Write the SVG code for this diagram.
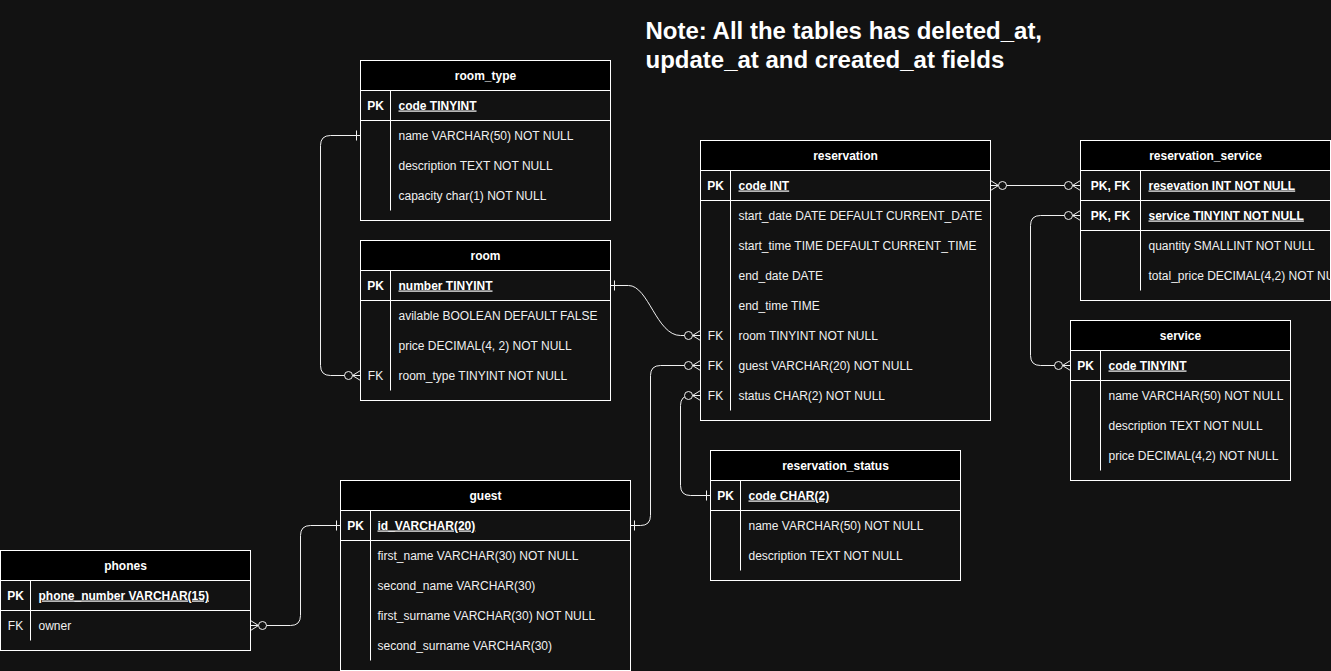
<svg xmlns="http://www.w3.org/2000/svg" width="1331" height="671" viewBox="0 0 1331 671">
<style>
.bg{fill:#121212}
.tb{fill:#121212;stroke:#ffffff;stroke-width:1}
.hd{fill:#000000;stroke:#ffffff;stroke-width:1}
.ln{stroke:#ffffff;stroke-width:1;fill:none}
.t{font-family:"Liberation Sans",Arial,Helvetica,sans-serif;font-size:12px;fill:#f0f0f0}
.h{font-weight:bold;text-anchor:middle;fill:#ffffff}
.k{font-weight:bold;text-anchor:middle;fill:#ffffff}
.f{text-anchor:middle}
.pk{font-weight:bold;text-decoration:underline;fill:#ffffff}
.note{font-family:"Liberation Sans",Arial,Helvetica,sans-serif;font-size:24px;font-weight:bold;fill:#ffffff}
.cn{stroke:#f0f0f0;stroke-width:1;fill:none}
</style>
<defs>
<marker id="zm" viewBox="-17 -7 20 14" refX="0" refY="0" markerWidth="20" markerHeight="14" orient="auto-start-reverse" markerUnits="userSpaceOnUse" overflow="visible">
<path d="M-8 0 L0 -5 M-8 0 L0 0 M-8 0 L0 5" stroke="#f0f0f0" stroke-width="1" fill="none"/>
<circle cx="-12" cy="0" r="4" fill="#121212" stroke="#f0f0f0" stroke-width="1"/>
</marker>
<marker id="one" viewBox="-8 -7 10 14" refX="0" refY="0" markerWidth="10" markerHeight="14" orient="auto-start-reverse" markerUnits="userSpaceOnUse" overflow="visible">
<path d="M-4 -5 V5" stroke="#f0f0f0" stroke-width="1" fill="none"/>
</marker>
<clipPath id="rsclip"><rect x="1080" y="140" width="250" height="160"/></clipPath>
</defs>
<rect class="bg" x="0" y="0" width="1331" height="671"/>
<g transform="translate(0.5,0.5)">

<g id="note">
<text class="note" x="645" y="38">Note: All the tables has deleted_at,</text>
<text class="note" x="645" y="67">update_at and created_at fields</text>
</g>

<g id="connectors">
<path class="cn" d="M360 135 H330 Q320 135 320 145 V365 Q320 375 330 375 H360" marker-start="url(#one)" marker-end="url(#zm)"/>
<path class="cn" d="M610 285 H628 C648 285 656 335 680 335 H700" marker-start="url(#one)" marker-end="url(#zm)"/>
<path class="cn" d="M630 525 H640 Q650 525 650 515 V375 Q650 365 660 365 H700" marker-start="url(#one)" marker-end="url(#zm)"/>
<path class="cn" d="M710 495 H690 Q680 495 680 485 V405 Q680 395 690 395 H700" marker-start="url(#one)" marker-end="url(#zm)"/>
<path class="cn" d="M990 185 H1080" marker-start="url(#zm)" marker-end="url(#zm)"/>
<path class="cn" d="M1070 365 H1040 Q1030 365 1030 355 V225 Q1030 215 1040 215 H1080" marker-start="url(#zm)" marker-end="url(#zm)"/>
<path class="cn" d="M340 525 H310 Q300 525 300 535 V615 Q300 625 290 625 H250" marker-start="url(#one)" marker-end="url(#zm)"/>
</g>

<g id="room_type">
<rect class="tb" x="360" y="60" width="250" height="160"/>
<rect class="hd" x="360" y="60" width="250" height="30"/>
<text class="t h" x="485" y="79">room_type</text>
<line class="ln" x1="360" y1="120" x2="610" y2="120"/>
<line class="ln" x1="390" y1="90" x2="390" y2="210"/>
<text class="t k" x="375" y="109">PK</text>
<text class="t pk" x="398" y="109">code TINYINT</text>
<text class="t" x="398" y="139">name VARCHAR(50) NOT NULL</text>
<text class="t" x="398" y="169">description TEXT NOT NULL</text>
<text class="t" x="398" y="199">capacity char(1) NOT NULL</text>
</g>

<g id="room">
<rect class="tb" x="360" y="240" width="250" height="160"/>
<rect class="hd" x="360" y="240" width="250" height="30"/>
<text class="t h" x="485" y="259">room</text>
<line class="ln" x1="360" y1="300" x2="610" y2="300"/>
<line class="ln" x1="390" y1="270" x2="390" y2="390"/>
<text class="t k" x="375" y="289">PK</text>
<text class="t pk" x="398" y="289">number TINYINT</text>
<text class="t" x="398" y="319">avilable BOOLEAN DEFAULT FALSE</text>
<text class="t" x="398" y="349">price DECIMAL(4, 2) NOT NULL</text>
<text class="t f" x="375" y="379">FK</text>
<text class="t" x="398" y="379">room_type TINYINT NOT NULL</text>
</g>

<g id="reservation">
<rect class="tb" x="700" y="140" width="290" height="280"/>
<rect class="hd" x="700" y="140" width="290" height="30"/>
<text class="t h" x="845" y="159">reservation</text>
<line class="ln" x1="700" y1="200" x2="990" y2="200"/>
<line class="ln" x1="730" y1="170" x2="730" y2="410"/>
<text class="t k" x="715" y="189">PK</text>
<text class="t pk" x="738" y="189">code INT</text>
<text class="t" x="738" y="219">start_date DATE DEFAULT CURRENT_DATE</text>
<text class="t" x="738" y="249">start_time TIME DEFAULT CURRENT_TIME</text>
<text class="t" x="738" y="279">end_date DATE</text>
<text class="t" x="738" y="309">end_time TIME</text>
<text class="t f" x="715" y="339">FK</text>
<text class="t" x="738" y="339">room TINYINT NOT NULL</text>
<text class="t f" x="715" y="369">FK</text>
<text class="t" x="738" y="369">guest VARCHAR(20) NOT NULL</text>
<text class="t f" x="715" y="399">FK</text>
<text class="t" x="738" y="399">status CHAR(2) NOT NULL</text>
</g>

<g id="reservation_service">
<rect class="tb" x="1080" y="140" width="250" height="160"/>
<rect class="hd" x="1080" y="140" width="250" height="30"/>
<text class="t h" x="1205" y="159">reservation_service</text>
<line class="ln" x1="1080" y1="200" x2="1330" y2="200"/>
<line class="ln" x1="1080" y1="230" x2="1330" y2="230"/>
<line class="ln" x1="1140" y1="170" x2="1140" y2="290"/>
<text class="t k" x="1110" y="189">PK, FK</text>
<text class="t pk" x="1148" y="189">resevation INT NOT NULL</text>
<text class="t k" x="1110" y="219">PK, FK</text>
<text class="t pk" x="1148" y="219">service TINYINT NOT NULL</text>
<text class="t" x="1148" y="249">quantity SMALLINT NOT NULL</text>
<text class="t" x="1148" y="279" clip-path="url(#rsclip)">total_price DECIMAL(4,2) NOT NULL</text>
</g>

<g id="service">
<rect class="tb" x="1070" y="320" width="220" height="160"/>
<rect class="hd" x="1070" y="320" width="220" height="30"/>
<text class="t h" x="1180" y="339">service</text>
<line class="ln" x1="1070" y1="380" x2="1290" y2="380"/>
<line class="ln" x1="1100" y1="350" x2="1100" y2="470"/>
<text class="t k" x="1085" y="369">PK</text>
<text class="t pk" x="1108" y="369">code TINYINT</text>
<text class="t" x="1108" y="399">name VARCHAR(50) NOT NULL</text>
<text class="t" x="1108" y="429">description TEXT NOT NULL</text>
<text class="t" x="1108" y="459">price DECIMAL(4,2) NOT NULL</text>
</g>

<g id="reservation_status">
<rect class="tb" x="710" y="450" width="250" height="130"/>
<rect class="hd" x="710" y="450" width="250" height="30"/>
<text class="t h" x="835" y="469">reservation_status</text>
<line class="ln" x1="710" y1="510" x2="960" y2="510"/>
<line class="ln" x1="740" y1="480" x2="740" y2="570"/>
<text class="t k" x="725" y="499">PK</text>
<text class="t pk" x="748" y="499">code CHAR(2)</text>
<text class="t" x="748" y="529">name VARCHAR(50) NOT NULL</text>
<text class="t" x="748" y="559">description TEXT NOT NULL</text>
</g>

<g id="guest">
<rect class="tb" x="340" y="480" width="290" height="190"/>
<rect class="hd" x="340" y="480" width="290" height="30"/>
<text class="t h" x="485" y="499">guest</text>
<line class="ln" x1="340" y1="540" x2="630" y2="540"/>
<line class="ln" x1="370" y1="510" x2="370" y2="660"/>
<text class="t k" x="355" y="529">PK</text>
<text class="t pk" x="377" y="529">id_VARCHAR(20)</text>
<text class="t" x="377" y="559">first_name VARCHAR(30) NOT NULL</text>
<text class="t" x="377" y="589">second_name VARCHAR(30)</text>
<text class="t" x="377" y="619">first_surname VARCHAR(30) NOT NULL</text>
<text class="t" x="377" y="649">second_surname VARCHAR(30)</text>
</g>

<g id="phones">
<rect class="tb" x="0" y="550" width="250" height="100"/>
<rect class="hd" x="0" y="550" width="250" height="30"/>
<text class="t h" x="125" y="569">phones</text>
<line class="ln" x1="0" y1="610" x2="250" y2="610"/>
<line class="ln" x1="30" y1="580" x2="30" y2="640"/>
<text class="t k" x="15" y="599">PK</text>
<text class="t pk" x="38" y="599">phone_number VARCHAR(15)</text>
<text class="t f" x="15" y="629">FK</text>
<text class="t" x="38" y="629">owner</text>
</g>

</g>
</svg>
